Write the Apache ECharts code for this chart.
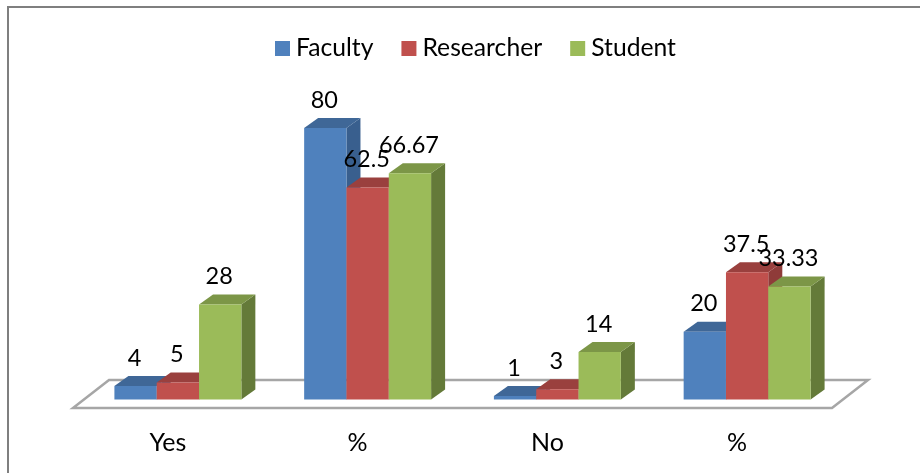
<!DOCTYPE html>
<html>
<head>
<meta charset="utf-8">
<style>
html, body { margin: 0; padding: 0; background: #fff; }
#chart { width: 920px; height: 473px; }
</style>
<script src="https://cdn.jsdelivr.net/npm/echarts@6/dist/echarts.min.js"></script>
</head>
<body>
<div id="chart"></div>
<script>
var categories = ["Yes", "%", "No", "%"];
var faculty = [4, 80, 1, 20];
var researcher = [5, 62.5, 3, 37.5];
var student = [28, 66.67, 14, 33.33];

var fontName = "Lato";
var chart = echarts.init(document.getElementById("chart"));

// top and side of each bar are darker shades of the front colour
var shades = {
  Faculty: { front: "#4F81BD", top: "#3F6797", side: "#395F8E" },
  Researcher: { front: "#C0504D", top: "#9A403E", side: "#8F3B39" },
  Student: { front: "#9BBB59", top: "#7C9647", side: "#647A39" }
};

// depth of the floor in pixels, bars stand in the middle of it
var depthX = 36, depthY = 28;
var barShiftX = 10, barShiftY = 8.5;
var sideX = 14, sideY = 10;

function rows(values) {
  return values.map(function (v, i) { return [i, v]; });
}

function barSeries(name, values, slot) {
  return {
    name: name,
    type: "custom",
    z: 3,
    data: rows(values),
    encode: { x: 0, y: 1 },
    itemStyle: { color: shades[name].front },
    renderItem: function (params, api) {
      var c = shades[name];
      var val = api.value(1);
      var top = api.coord([api.value(0), val]);
      var base = api.coord([api.value(0), 0]);
      var w = api.size([1, 0])[0] * 0.223;
      var x0 = top[0] + barShiftX + (slot - 1.5) * w;
      var x1 = x0 + w;
      var yt = top[1] - barShiftY;
      var yb = base[1] - barShiftY;
      return {
        type: "group",
        children: [
          { type: "polygon", shape: { points: [[x1, yt], [x1 + sideX, yt - sideY], [x1 + sideX, yb - sideY], [x1, yb]] }, style: { fill: c.side } },
          { type: "polygon", shape: { points: [[x0, yt], [x0 + sideX, yt - sideY], [x1 + sideX, yt - sideY], [x1, yt]] }, style: { fill: c.top } },
          { type: "rect", shape: { x: x0, y: yt, width: w, height: yb - yt }, style: { fill: c.front } },
          {
            type: "text", z2: 100,
            style: {
              text: String(val), x: (x0 + x1) / 2 - 1, y: yt - 28,
              align: "center", verticalAlign: "middle",
              fill: "#000", font: "23.5px " + fontName
            }
          }
        ]
      };
    }
  };
}

chart.setOption({
  animation: false,
  backgroundColor: "#fff",
  textStyle: { fontFamily: fontName },
  graphic: [{
    type: "rect",
    shape: { x: 8, y: 7, width: 930, height: 480 },
    style: { fill: "none", stroke: "#7F7F7F", lineWidth: 2 },
    silent: true
  }],
  legend: {
    data: ["Faculty", "Researcher", "Student"],
    left: 270, top: 31,
    itemWidth: 15, itemHeight: 15, itemGap: 28,
    icon: "rect",
    textStyle: { color: "#000", fontSize: 24.7, fontFamily: fontName, padding: [0, 0, 0, 1] }
  },
  grid: { left: 73, top: 136.5, width: 759, height: 271.5 },
  xAxis: {
    type: "category",
    data: categories,
    axisLine: { show: false },
    axisTick: { show: false },
    axisLabel: { color: "#000", fontSize: 25, margin: 22, fontFamily: fontName, interval: 0 }
  },
  yAxis: { type: "value", min: 0, max: 80, show: false, splitLine: { show: false } },
  series: [
    {
      name: "floor",
      type: "custom",
      z: 1,
      silent: true,
      data: [[0, 0]],
      encode: { x: 0, y: 1 },
      renderItem: function (params) {
        var g = params.coordSys;
        var b = g.y + g.height;
        return {
          type: "polygon",
          shape: { points: [[g.x, b], [g.x + g.width, b], [g.x + g.width + depthX, b - depthY], [g.x + depthX, b - depthY]] },
          style: { fill: "#fff", stroke: "#A6A6A6", lineWidth: 2.5 }
        };
      }
    },
    barSeries("Faculty", faculty, 0),
    barSeries("Researcher", researcher, 1),
    barSeries("Student", student, 2)
  ]
});
</script>
</body>
</html>
